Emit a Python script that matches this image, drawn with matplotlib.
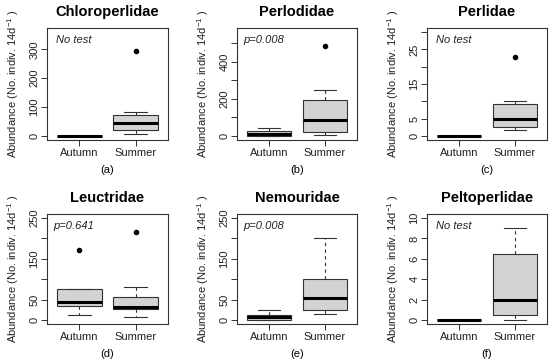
import numpy as np
import matplotlib
matplotlib.use('Agg')
import matplotlib.pyplot as plt

plt.rcParams['font.family'] = ['Liberation Sans', 'DejaVu Sans']
plt.rcParams['mathtext.fontset'] = 'custom'
plt.rcParams['mathtext.rm'] = 'Liberation Sans'
plt.rcParams['mathtext.it'] = 'Liberation Sans:italic'

families = ['Chloroperlidae', 'Perlodidae', 'Perlidae',
            'Leuctridae', 'Nemouridae', 'Peltoperlidae']
tags = ['(a)', '(b)', '(c)', '(d)', '(e)', '(f)']
tests = ['No test', 'p=0.008', 'No test', 'p=0.641', 'p=0.008', 'No test']
seasons = ['Autumn', 'Summer']

# whisker low, q1, median, q3, whisker high
autumn_stats = [[0, 0, 0, 0, 0],
                [0, 0, 9, 27, 40],
                [0, 0, 0, 0, 0],
                [11.5, 34, 44, 76.5, 76.5],
                [0, 0, 7, 11.5, 25.5],
                [0, 0, 0, 0, 0]]
summer_stats = [[6, 19, 43, 74, 84],
                [4, 22, 87, 195, 249],
                [1.8, 2.7, 4.9, 9.1, 10],
                [6.6, 27, 31, 57, 81],
                [15, 24.7, 55, 101, 200.6],
                [0, 0.5, 2, 6.5, 9]]
autumn_out = [[], [], [], [172], [], []]
summer_out = [[294], [485], [22.8], [215], [], []]

ymax = [360, 560, 30, 250, 250, 10]
yticks = [[0, 100, 200, 300],
          [0, 100, 200, 300, 400, 500],
          [0, 5, 10, 15, 20, 25, 30],
          [0, 50, 100, 150, 200, 250],
          [0, 50, 100, 150, 200, 250],
          [0, 2, 4, 6, 8, 10]]
ylabels_shown = [[0, 100, 200, 300], [0, 200, 400], [0, 5, 15, 25],
                 [0, 50, 150, 250], [0, 50, 150, 250], [0, 2, 4, 6, 8, 10]]

W, H = 550, 361
fig = plt.figure(figsize=(W/100, H/100), dpi=100)

lefts = [47, 237, 427]
widths = [121, 120, 120]
rows = [(28, 140), (214, 324)]
edge = '#333333'

for i in range(6):
    r, c = i // 3, i % 3
    top, bot = rows[r]
    l, w = lefts[c], widths[c]
    ax = fig.add_axes([l/W, 1-bot/H, w/W, (bot-top)/H])

    stats = []
    for s, out in ((autumn_stats[i], autumn_out[i]), (summer_stats[i], summer_out[i])):
        stats.append(dict(whislo=s[0], q1=s[1], med=s[2], q3=s[3], whishi=s[4], fliers=out))
    ax.bxp(stats, positions=[1, 2], widths=0.8, capwidths=0.4, patch_artist=True,
           boxprops=dict(facecolor='#d3d3d3', edgecolor=edge, lw=0.8),
           medianprops=dict(color='black', lw=2.2, solid_capstyle='butt'),
           whiskerprops=dict(color=edge, lw=0.8, ls=(0, (3, 3))),
           capprops=dict(color=edge, lw=0.8),
           flierprops=dict(marker='o', markerfacecolor='black', markeredgecolor='black',
                           markersize=3))

    ax.set_xlim(0.42, 2.58)
    ax.set_ylim(-0.04*ymax[i], 1.04*ymax[i])
    ax.set_xticks([1, 2])
    ax.set_xticklabels(seasons, fontsize=8)
    ax.set_yticks(yticks[i])
    ax.set_yticklabels([str(t) if t in ylabels_shown[i] else '' for t in yticks[i]],
                       fontsize=8, rotation=90, va='center', ha='right')
    ax.tick_params(length=4, width=0.7, color=edge, pad=1.5, labelcolor='#222222')
    for sp in ax.spines.values():
        sp.set_color(edge)
        sp.set_linewidth(0.8)

    ax.text(0.9, 0.92*ymax[i], tests[i], fontsize=8, fontstyle='italic',
            ha='center', va='center', color='#222222')

    cx = (l + w/2)/W
    fig.text(cx, 1 - (top - 16)/H, families[i], fontsize=10.5, fontweight='bold',
             ha='center', va='center')
    fig.text(cx, 1 - (bot + 30)/H, tags[i], fontsize=8, ha='center', va='center')
    fig.text((l - 34)/W, 1 - (top + bot)/2/H, 'Abundance (No. indiv. 14d$^{-1}$ )',
             fontsize=8, rotation=90, ha='center', va='center', color='#222222')

fig.savefig('out.png', dpi=100)
